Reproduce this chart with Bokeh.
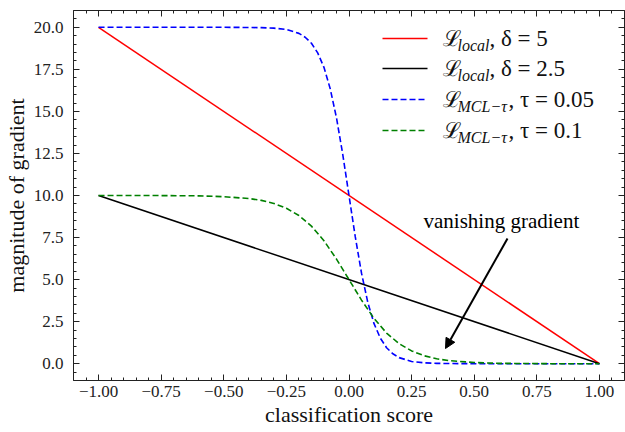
from bokeh.plotting import figure
from bokeh.models import (Range1d, LinearAxis, FixedTicker, CustomJSTickFormatter,
                          Label, Arrow, NormalHead, CustomLabelingPolicy)
from bokeh.embed import file_html
from bokeh.resources import INLINE

# ---- data ----
x_red = [-1.0, 1.0]
y_red = [20.0, 0.0]
x_black = [-1.0, 1.0]
y_black = [10.0, 0.0]
x_blue = [-1.0, -0.5, -0.4, -0.35, -0.3, -0.25, -0.2, -0.175, -0.15, -0.125, -0.1, -0.075,
          -0.05, -0.025, 0.0, 0.025, 0.05, 0.075, 0.1, 0.125, 0.15, 0.175, 0.2, 0.25, 0.3,
          0.35, 0.4, 0.5, 1.0]
y_blue = [20.0, 20.0, 19.99, 19.98, 19.95, 19.87, 19.64, 19.41, 19.05, 18.48, 17.62, 16.35,
          14.62, 12.45, 10.0, 7.55, 5.38, 3.65, 2.38, 1.52, 0.95, 0.59, 0.36, 0.13, 0.05,
          0.02, 0.01, 0.0, 0.0]
x_green = [-1.0, -0.8, -0.6, -0.5, -0.4, -0.35, -0.3, -0.25, -0.2, -0.15, -0.1, -0.05, 0.0,
           0.05, 0.1, 0.15, 0.2, 0.25, 0.3, 0.35, 0.4, 0.5, 0.6, 0.8, 1.0]
y_green = [10.0, 10.0, 9.98, 9.93, 9.82, 9.71, 9.53, 9.24, 8.81, 8.18, 7.31, 6.22, 5.0,
           3.78, 2.69, 1.82, 1.19, 0.76, 0.47, 0.29, 0.18, 0.07, 0.02, 0.0, 0.0]
x_ticks = [-1.0, -0.75, -0.5, -0.25, 0.0, 0.25, 0.5, 0.75, 1.0]
y_ticks = [0.0, 2.5, 5.0, 7.5, 10.0, 12.5, 15.0, 17.5, 20.0]
x_minor = [round(-1.1 + 0.05 * i, 2) for i in range(45)]
y_minor = [round(-1.0 + 0.5 * i, 2) for i in range(45)]

W, H = 625, 432
L, R, T, B = 73, 1, 10, 52
XR = (-1.1, 1.1)
YR = (-1.0, 21.0)
FONT = "Liberation Serif"

p = figure(width=W, height=H, output_backend="svg", toolbar_location=None,
           x_range=Range1d(*XR), y_range=Range1d(*YR),
           x_axis_type=None, y_axis_type=None,
           min_border_left=L, min_border_right=R, min_border_top=T, min_border_bottom=B)
p.xgrid.visible = False
p.ygrid.visible = False
p.outline_line_color = None
p.background_fill_color = "white"
p.border_fill_color = "white"

fw = W - L - R
fh = H - T - B
def px2x(px):
    return XR[0] + (px - L) / fw * (XR[1] - XR[0])
def px2y(py):
    return YR[1] - (py - T) / fh * (YR[1] - YR[0])

xfmt = CustomJSTickFormatter(code="return tick.toFixed(2).replace('-', '\u2212');")
yfmt = CustomJSTickFormatter(code="return tick.toFixed(1).replace('-', '\u2212');")
empty_fmt = CustomJSTickFormatter(code="return '';")
no_labels = CustomLabelingPolicy(code="""
    const all = Array.from(indices)
    for (const i of all) { indices.unset(i) }
    return indices
""")

def style(ax, labels):
    ax.axis_line_color = "#222222"
    ax.axis_line_width = 1
    ax.major_tick_in = 6
    ax.major_tick_out = 0
    ax.minor_tick_in = 3
    ax.minor_tick_out = 0
    ax.major_tick_line_color = "#222222"
    ax.minor_tick_line_color = "#222222"
    if labels:
        ax.major_label_text_font = FONT
        ax.major_label_text_font_size = "17px"
        ax.major_label_text_color = "#222222"
        ax.axis_label_text_font = FONT
        ax.axis_label_text_font_style = "normal"
        ax.axis_label_text_font_size = "22px"
        ax.axis_label_text_color = "#111111"
    else:
        ax.formatter = empty_fmt
        ax.major_label_policy = no_labels
        ax.major_label_text_font_size = "0px"
        ax.major_label_standoff = 0
        ax.axis_label_standoff = 0

xb = LinearAxis(ticker=FixedTicker(ticks=x_ticks, minor_ticks=x_minor), formatter=xfmt,
                axis_label="classification score")
style(xb, True)
xb.major_label_standoff = 5
xb.axis_label_standoff = 2
p.add_layout(xb, "below")

yl = LinearAxis(ticker=FixedTicker(ticks=y_ticks, minor_ticks=y_minor), formatter=yfmt,
                axis_label="magnitude of gradient")
style(yl, True)
yl.major_label_standoff = 10
yl.axis_label_standoff = 2
p.add_layout(yl, "left")

xt = LinearAxis(ticker=FixedTicker(ticks=x_ticks, minor_ticks=x_minor))
style(xt, False)
p.add_layout(xt, "above")
yr = LinearAxis(ticker=FixedTicker(ticks=y_ticks, minor_ticks=y_minor))
style(yr, False)
p.add_layout(yr, "right")

p.line(x_red, y_red, line_color="#ff0000", line_width=1.5)
p.line(x_black, y_black, line_color="#000000", line_width=1.5)
p.line(x_blue, y_blue, line_color="#0000ff", line_width=1.6, line_dash="6 3")
p.line(x_green, y_green, line_color="#008000", line_width=1.6, line_dash="6 3")

# ---- legend (drawn by hand, to allow subscripts) ----
rows = [
    ("#ff0000", "solid", "local", ", \u03b4 = 5", 489),
    ("#000000", "solid", "local", ", \u03b4 = 2.5", 489),
    ("#0000ff", "6 3", "MCL\u2212\u03c4", ", \u03c4 = 0.05", 508),
    ("#008000", "6 3", "MCL\u2212\u03c4", ", \u03c4 = 0.1", 508),
]
row_py = [38, 68, 99, 130]
for (col, dash, sub, rest, rx), py in zip(rows, row_py):
    p.line([px2x(382), px2x(427)], [px2y(py), px2y(py)], line_color=col,
           line_width=1.6, line_dash=dash)
    p.add_layout(Label(x=px2x(442), y=px2y(py), text="\u2112", text_font="DejaVu Serif",
                       text_font_size="22px", text_baseline="middle", text_color="#111111"))
    p.add_layout(Label(x=px2x(457), y=px2y(py + 7), text=sub, text_font=FONT,
                       text_font_style="italic", text_font_size="16px",
                       text_baseline="middle", text_color="#111111"))
    p.add_layout(Label(x=px2x(rx), y=px2y(py), text=rest, text_font=FONT,
                       text_font_size="23px", text_baseline="middle", text_color="#111111"))

# ---- annotation ----
p.add_layout(Label(x=px2x(423), y=px2y(220), text="vanishing gradient", text_font=FONT,
                   text_font_size="21px", text_baseline="middle", text_color="#000000"))
p.add_layout(Arrow(x_start=px2x(507), y_start=px2y(238), x_end=px2x(445), y_end=px2y(348),
                   line_width=2, line_color="#000000",
                   end=NormalHead(size=10, fill_color="#000000", line_color="#000000")))

open("out.html", "w").write(file_html(p, INLINE))
